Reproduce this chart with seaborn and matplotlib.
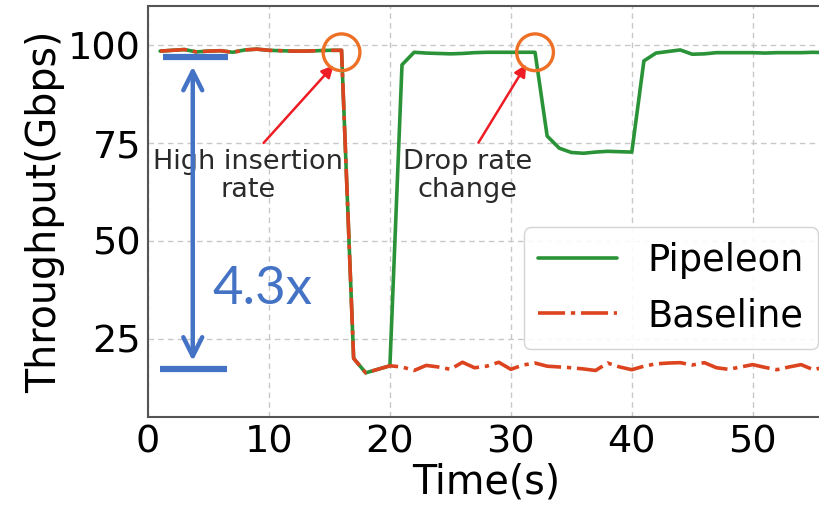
import matplotlib
matplotlib.use("Agg")
import matplotlib.pyplot as plt
import seaborn as sns
import pandas as pd

# Data (time in s, throughput in Gbps)
time_s = list(range(1, 57))
pipeleon = [98.5, 98.7, 98.9, 98.3, 98.5, 98.6, 98.2, 98.8, 99.0, 98.7,
            98.6, 98.5, 98.5, 98.6, 98.7, 98.7, 20.0, 16.3, 17.2, 18.1,
            95.0, 98.2, 98.0, 97.9, 97.8, 97.9, 98.1, 98.2, 98.2, 98.2,
            98.2, 98.2, 76.8, 73.7, 72.6, 72.4, 72.7, 72.9, 72.8, 72.7,
            96.0, 98.0, 98.4, 98.8, 97.7, 97.8, 98.1, 98.1, 98.1, 98.1,
            98.0, 98.1, 98.1, 98.1, 98.2, 98.1]
baseline = [98.5, 98.7, 98.9, 98.3, 98.5, 98.6, 98.2, 98.8, 99.0, 98.7,
            98.6, 98.5, 98.5, 98.6, 98.7, 98.7, 20.0, 16.3, 17.2, 18.1,
            17.8, 16.9, 18.2, 17.8, 17.2, 19.0, 17.6, 18.0, 19.0, 17.2,
            18.3, 18.8, 18.0, 17.8, 17.6, 17.3, 16.9, 18.8, 17.8, 17.1,
            18.0, 18.6, 18.8, 18.9, 18.3, 18.9, 17.6, 17.2, 17.8, 18.4,
            17.7, 17.1, 17.8, 18.4, 17.1, 17.8]

event_times = [16, 32]
event_values = [98.2, 98.2]

df = pd.DataFrame({"time": time_s, "Pipeleon": pipeleon, "Baseline": baseline})

GREEN = "#2a9338"
RED = "#dc4420"
ORANGE = "#ee7026"
BLUE = "#4472c4"

sns.set_style("whitegrid")
plt.rcParams["font.family"] = ["DejaVu Sans"]
plt.rcParams["text.color"] = "black"

fig = plt.figure(figsize=(8.2, 5.08), dpi=100)
ax = fig.add_axes([0.1805, 0.179, 0.826, 0.809])

sns.lineplot(data=df, x="time", y="Pipeleon", ax=ax, color=GREEN,
             linewidth=2.6, label="Pipeleon", zorder=3)
sns.lineplot(data=df, x="time", y="Baseline", ax=ax, color=RED,
             linewidth=2.6, label="Baseline", zorder=4)
ax.lines[1].set_dashes([7.5, 1.6, 1.2, 1.6])

ax.set_xlim(0, 56)
ax.set_ylim(5, 110)
ax.set_xticks([0, 10, 20, 30, 40, 50])
ax.set_yticks([25, 50, 75, 100])
ax.tick_params(direction="in", length=4, width=1.2, labelsize=27.5,
               colors="#333333", labelcolor="black", pad=5)
ax.grid(True, linestyle=(0, (4, 3)), color="#c8c8c8", linewidth=1.0)
for side in ["left", "bottom", "top", "right"]:
    ax.spines[side].set_color("#555555")
    ax.spines[side].set_linewidth(1.5)

ax.set_xlabel("Time(s)", fontsize=28.5, labelpad=2, color="black")
ax.set_ylabel("Throughput(Gbps)", fontsize=28.5, labelpad=2, color="black")

# orange circles marking events
ax.scatter(event_times, event_values, s=700, facecolors="none",
           edgecolors=ORANGE, linewidths=2.4, zorder=5)

# red annotation arrows and labels
ax.annotate("", xy=(15.5, 95.4), xytext=(9.4, 74.5),
            arrowprops=dict(arrowstyle="-|>", color="#ee1c24", lw=1.8,
                            mutation_scale=18))
ax.text(8.3, 66.5, "High insertion\nrate", ha="center", va="center",
        fontsize=19.5, color="#2a2a2a", linespacing=1.1, zorder=6)
ax.annotate("", xy=(31.4, 95.7), xytext=(27.2, 74.5),
            arrowprops=dict(arrowstyle="-|>", color="#ee1c24", lw=1.8,
                            mutation_scale=18))
ax.text(26.4, 66.5, "Drop rate\nchange", ha="center", va="center",
        fontsize=19.5, color="#2a2a2a", linespacing=1.1, zorder=6)

# blue 4.3x gap marker
ax.plot([1.2, 6.6], [97.0, 97.0], color=BLUE, linewidth=4.5,
        solid_capstyle="butt", zorder=6)
ax.plot([1.0, 6.5], [17.3, 17.3], color=BLUE, linewidth=4.5,
        solid_capstyle="butt", zorder=6)
ax.annotate("", xy=(3.7, 95.3), xytext=(3.7, 18.6),
            arrowprops=dict(arrowstyle="<->", color=BLUE, lw=3.2,
                            mutation_scale=34), zorder=6)
ax.text(5.3, 37.5, "4.3x", ha="left", va="center", fontsize=38,
        color=BLUE, family=["Lato", "DejaVu Sans"], zorder=6)

leg = ax.legend(loc="lower right", bbox_to_anchor=(818 / 820, 159 / 508),
                bbox_transform=fig.transFigure, borderaxespad=0,
                fontsize=26.5, handlelength=2.15, frameon=True,
                fancybox=True, framealpha=0.9, edgecolor="#d0d0d0",
                borderpad=0.4, labelspacing=0.5, handletextpad=0.8)
for t in leg.get_texts():
    t.set_color("black")

fig.savefig("out.png", dpi=100)
